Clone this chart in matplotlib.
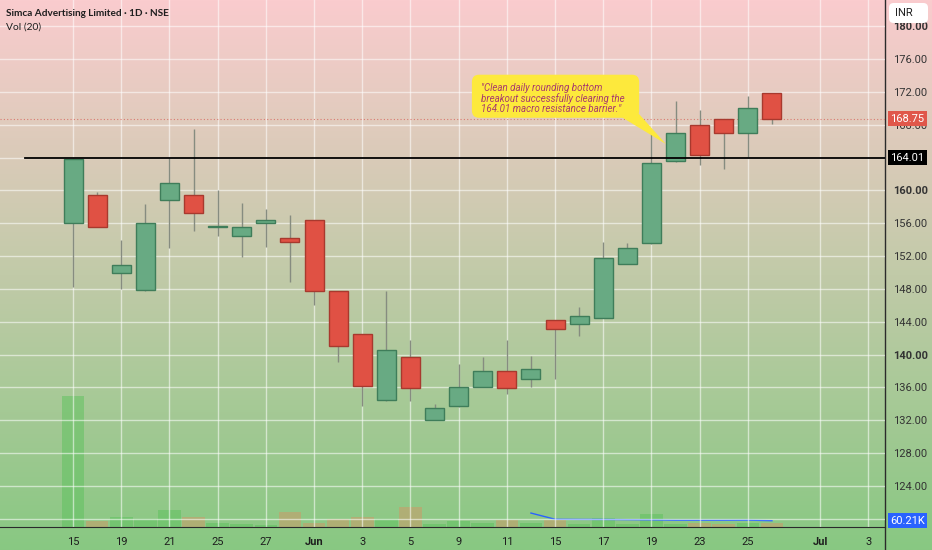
import numpy as np
import pandas as pd
import matplotlib
matplotlib.use("Agg")
import matplotlib.pyplot as plt
from matplotlib.patches import Polygon, FancyBboxPatch
from matplotlib.transforms import blended_transform_factory
from matplotlib.lines import Line2D

W, H = 932, 550

# daily OHLC, one entry per trading session
opens = [156.0, 159.45, 150.0, 147.9, 158.85, 159.5, 155.5, 154.5, 156.0, 154.25,
         156.4, 147.7, 142.5, 134.5, 139.7, 132.0, 133.7, 136.1, 138.0, 137.0,
         144.2, 143.75, 144.5, 151.05, 153.55, 163.6, 167.95, 168.7, 167.05, 171.85]
highs = [164.0, 159.8, 154.0, 158.35, 163.9, 167.45, 160.0, 158.5, 157.75, 157.0,
         156.4, 147.7, 142.5, 147.75, 141.8, 133.95, 138.8, 139.7, 141.8, 139.85,
         144.2, 145.85, 153.7, 153.55, 166.95, 170.9, 169.85, 168.75, 171.55, 171.9]
lows = [148.2, 155.5, 148.0, 147.8, 153.0, 155.0, 154.5, 151.9, 153.1, 148.9,
        146.1, 139.1, 133.7, 134.4, 134.3, 132.0, 133.6, 136.0, 135.2, 136.0,
        137.0, 142.3, 144.4, 151.0, 153.5, 163.5, 163.05, 162.6, 164.05, 168.05]
closes = [163.8, 155.6, 150.9, 156.0, 160.9, 157.2, 155.6, 155.5, 156.4, 153.7,
          147.7, 141.1, 136.15, 140.55, 135.9, 133.45, 136.0, 138.0, 135.9, 138.25,
          143.1, 144.7, 151.75, 153.0, 163.4, 167.05, 164.35, 167.05, 170.1, 168.75]
volumes_k = [1252, 60, 96, 74, 160, 98, 38, 29, 19, 143,
             35.2, 74, 93, 74, 191, 30, 60, 36, 67, 36,
             67, 33, 83, 33, 121, 33, 35, 30, 38, 35]

date_tick_pos = [0, 2, 4, 6, 8, 10, 12, 14, 16, 18, 20, 22, 24, 26, 28, 31, 33]
date_tick_labels = ["15", "19", "21", "25", "27", "Jun", "3", "5", "9", "11",
                    "15", "17", "19", "23", "25", "Jul", "3"]
price_ticks = list(range(120, 184, 4))
hidden_price_ticks = [120, 164]   # covered by the value tags
resistance = 164.01
title = "Simca Advertising Limited \u00b7 1D \u00b7 NSE"
vol_title = "Vol (20)"
note = ('"Clean daily rounding bottom\n'
        'breakout successfully clearing the\n'
        '164.01 macro resistance barrier."')

GREEN, GREEN_EDGE = "#68aa83", "#3f7d5a"
RED, RED_EDGE = "#e05144", "#a8392e"
WICK = "#868c80"

plt.rcParams["font.family"] = ["Roboto", "DejaVu Sans"]

fig = plt.figure(figsize=(W / 100, H / 100), dpi=100)

# pink -> green background over the whole canvas
bg = fig.add_axes([0, 0, 1, 1], zorder=-10)
top = np.array([250, 204, 206]) / 255
bot = np.array([136, 200, 130]) / 255
t = np.linspace(0, 1, 256)[:, None]
grad = (top[None, :] * (1 - t) + bot[None, :] * t)[:, None, :]
bg.imshow(grad, extent=[0, 1, 0, 1], aspect="auto")
bg.axis("off")

pos = [0, 23 / H, 885 / W, 527 / H]
vax = fig.add_axes(pos, zorder=1)
ax = fig.add_axes(pos, zorder=2, sharex=vax)
for a in (ax, vax):
    a.set_facecolor("none")

n = len(opens)
x = np.arange(n)
o, h, l, c = map(np.array, (opens, highs, lows, closes))
up = c >= o

# volume pane
vol = pd.Series(volumes_k)
vol_ma = vol.rolling(20).mean()
vax.bar(x[up], vol[up], width=0.94, color="#5cc25c", alpha=0.5, lw=0)
vax.bar(x[~up], vol[~up], width=0.94, color="#e08a5e", alpha=0.42, lw=0)
vax.plot(x, vol_ma, color="#2962ff", lw=1)
vax.set_ylim(0, 5037)
vax.axis("off")

# candles
ax.vlines(x, l, h, color=WICK, lw=1, zorder=3)
body_lo = np.minimum(o, c)
body_h = np.maximum(np.abs(c - o), 0.12)
ax.bar(x[up], body_h[up], bottom=body_lo[up], width=0.79,
       color=GREEN, edgecolor=GREEN_EDGE, lw=1, zorder=4)
ax.bar(x[~up], body_h[~up], bottom=body_lo[~up], width=0.79,
       color=RED, edgecolor=RED_EDGE, lw=1, zorder=4)

x0, x1 = -3.03, 33.69
ax.set_xlim(x0, x1)
ax.set_ylim(119.0, 183.2)

ax.axhline(resistance, xmin=(-2 - x0) / (x1 - x0), color="black", lw=1.3, zorder=5)
ax.axhline(c[-1], ls=(0, (1, 2)), color="#d97a70", lw=0.8, zorder=2)

ax.set_xticks(date_tick_pos)
ax.set_xticklabels(date_tick_labels)
ax.set_yticks(price_ticks)
ax.set_yticklabels(["" if p in hidden_price_ticks else f"{p:.2f}" for p in price_ticks])
ax.yaxis.tick_right()
ax.tick_params(axis="x", length=0, pad=7, labelsize=8, labelcolor="#1e1e1e")
ax.tick_params(axis="y", length=0, pad=5.8, labelsize=8, labelcolor="#333333")
for lab in ax.get_xticklabels():
    if lab.get_text() in ("Jun", "Jul"):
        lab.set_fontweight("bold")
for lab, p in zip(ax.get_yticklabels(), price_ticks):
    if p % 20 == 0:
        lab.set_fontweight("bold")
ax.grid(True, color="white", alpha=0.55, lw=1)
ax.set_axisbelow(True)
for s in ("top", "left", "right"):
    ax.spines[s].set_visible(False)
ax.spines["bottom"].set_color("#2b2b2b")
fig.add_artist(Line2D([885 / W] * 2, [0, 1], color="#2b2b2b", lw=1))

# callout
box = FancyBboxPatch((16.55, 168.85), 23.49 - 16.55, 174.1 - 168.85,
                     boxstyle="round,pad=0,rounding_size=0.3",
                     mutation_aspect=24.1 / 8.212, fc="#fde93c", ec="none", zorder=6)
ax.add_patch(box)
ax.add_patch(Polygon([(22.78, 168.9), (23.45, 169.42), (24.6, 165.65)],
                     closed=True, fc="#fde93c", ec="none", zorder=6))
ax.text(16.92, 171.25, note, ha="left", va="center", fontsize=7.0, style="italic",
        color="#a83c6c", linespacing=1.0, zorder=7)

# right-hand price / volume labels
ytr = blended_transform_factory(ax.transAxes, ax.transData)
vtr = blended_transform_factory(ax.transAxes, vax.transData)
lx = 890 / 885
ax.text(lx, resistance, f"{resistance:.2f}", transform=ytr, ha="left", va="center",
        fontsize=8, color="white", clip_on=False, zorder=8,
        bbox=dict(boxstyle="square,pad=0.22", fc="black", ec="none"))
ax.text(lx, c[-1], f"{c[-1]:.2f}", transform=ytr, ha="left", va="center",
        fontsize=8, color="white", clip_on=False, zorder=8,
        bbox=dict(boxstyle="square,pad=0.22", fc="#e0574a", ec="none"))
ax.text(lx, vol_ma.iloc[-1], f"{vol_ma.iloc[-1]:.2f}K", transform=vtr, ha="left",
        va="center", fontsize=8, color="white", clip_on=False, zorder=8,
        bbox=dict(boxstyle="square,pad=0.22", fc="#2962ff", ec="none"))

fig.add_artist(FancyBboxPatch((889 / W, 1 - 23 / H), 39 / W, 20 / H,
                              boxstyle="round,pad=0,rounding_size=0.005",
                              mutation_aspect=W / H, fc="white", ec="none",
                              transform=fig.transFigure, zorder=9))
fig.text(895 / W, 1 - 13 / H, "INR", ha="left", va="center", fontsize=8,
         color="#222222", zorder=10)

fig.text(6 / W, 1 - 13.5 / H, title, ha="left", va="center", fontsize=7.2,
         fontweight="bold", color="#1e1e1e", family=["Lato", "DejaVu Sans"])
fig.text(6 / W, 1 - 27 / H, vol_title, ha="left", va="center", fontsize=7.4,
         color="#1e1e1e", family=["Lato", "DejaVu Sans"])

fig.savefig("out.png", dpi=100)
